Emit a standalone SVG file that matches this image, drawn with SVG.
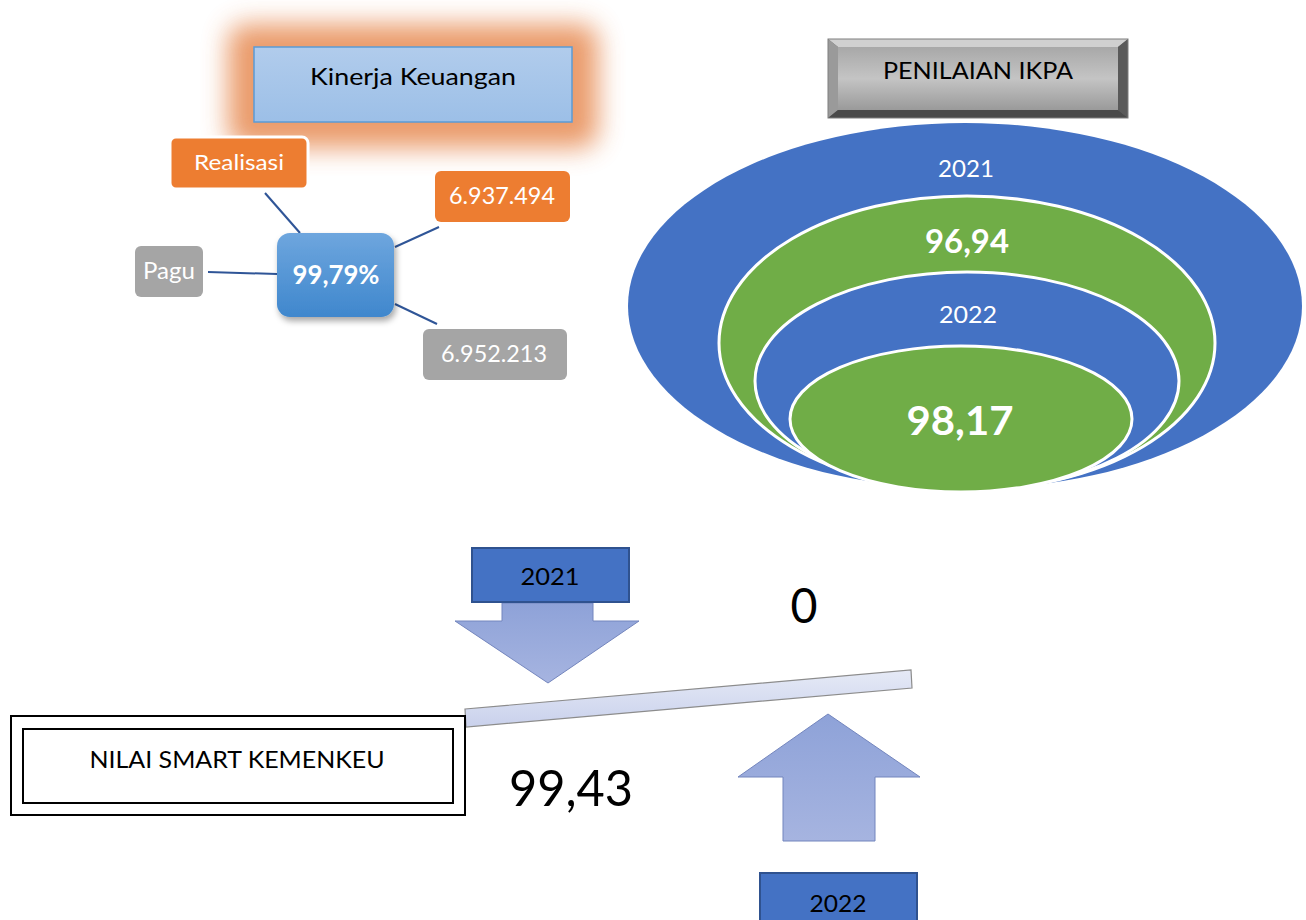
<svg xmlns="http://www.w3.org/2000/svg" width="1306" height="920" viewBox="0 0 1306 920">
<style>
text{font-family:Lato,"Liberation Sans",sans-serif;text-anchor:middle}
.w{fill:#fff}
.k{fill:#000}
.b{font-weight:bold}
.conn{stroke:#2F5597;stroke-width:2;fill:none}
.arrow{fill:url(#arrG);stroke:#7385BD;stroke-width:1}
.yr{fill:#4472C4;stroke:#2F528F;stroke-width:2}
</style>
<defs>
<linearGradient id="kinG" x1="0" y1="0" x2="0" y2="1"><stop offset="0" stop-color="#B1CCEC"/><stop offset="1" stop-color="#9CBFE7"/></linearGradient>
<linearGradient id="pctG" x1="0" y1="0" x2="0" y2="1"><stop offset="0" stop-color="#6EA6DE"/><stop offset="1" stop-color="#3F87CD"/></linearGradient>
<linearGradient id="grayG" x1="0" y1="0" x2="0" y2="1"><stop offset="0" stop-color="#A8A8A8"/><stop offset="0.5" stop-color="#C4C4C4"/><stop offset="1" stop-color="#9A9A9A"/></linearGradient>
<linearGradient id="arrG" x1="0" y1="0" x2="0" y2="1"><stop offset="0" stop-color="#8EA2D8"/><stop offset="1" stop-color="#A6B4E0"/></linearGradient>
<linearGradient id="barG" x1="0" y1="0" x2="0" y2="1"><stop offset="0" stop-color="#E6EAF6"/><stop offset="1" stop-color="#C9D1EC"/></linearGradient>
<filter id="glow" x="-30%" y="-60%" width="160%" height="220%"><feGaussianBlur stdDeviation="13"/></filter>
<filter id="shadow" x="-20%" y="-20%" width="150%" height="150%"><feDropShadow dx="2" dy="4" stdDeviation="3" flood-color="#000" flood-opacity="0.35"/></filter>
</defs>

<g id="kinerja-keuangan">
<rect x="228" y="24" width="370" height="124" rx="18" fill="#E8915C" opacity="0.9" filter="url(#glow)"/>
<rect x="254" y="47" width="318" height="75" fill="url(#kinG)" stroke="#5B9BD5" stroke-width="1.5"/>
<text x="413" y="85" font-size="24" class="k" textLength="206" lengthAdjust="spacingAndGlyphs">Kinerja Keuangan</text>
</g>

<g id="connectors">
<line class="conn" x1="265" y1="193" x2="300" y2="233"/>
<line class="conn" x1="208" y1="272" x2="277" y2="274"/>
<line class="conn" x1="395" y1="247" x2="439" y2="227"/>
<line class="conn" x1="395" y1="304" x2="437" y2="324"/>
</g>

<g id="realisasi">
<rect x="170" y="137" width="138" height="52" rx="6" fill="#ED7D31" stroke="#fff" stroke-width="3"/>
<text x="239" y="170" font-size="22" class="w" textLength="90" lengthAdjust="spacingAndGlyphs">Realisasi</text>
</g>

<g id="realisasi-value">
<rect x="435" y="171" width="135" height="51" rx="6" fill="#ED7D31"/>
<text x="502" y="204" font-size="23" class="w" textLength="106" lengthAdjust="spacingAndGlyphs">6.937.494</text>
</g>

<g id="pagu">
<rect x="135" y="246" width="68" height="51" rx="6" fill="#A5A5A5"/>
<text x="169" y="279" font-size="23" class="w" textLength="52" lengthAdjust="spacingAndGlyphs">Pagu</text>
</g>

<g id="pagu-value">
<rect x="423" y="329" width="144" height="51" rx="6" fill="#A5A5A5"/>
<text x="494" y="362" font-size="23" class="w" textLength="106" lengthAdjust="spacingAndGlyphs">6.952.213</text>
</g>

<g id="persentase">
<rect x="277" y="233" width="117" height="84" rx="13" fill="url(#pctG)" filter="url(#shadow)"/>
<text x="336" y="284" font-size="26" class="w b" textLength="87" lengthAdjust="spacingAndGlyphs">99,79%</text>
</g>

<g id="penilaian-ikpa">
<rect x="828" y="39" width="300" height="79" fill="#6E6E6E"/>
<polygon points="828,39 1128,39 1118,47 838,47" fill="#D0D0D0"/>
<polygon points="828,39 838,47 838,110 828,118" fill="#9A9A9A"/>
<polygon points="1128,39 1118,47 1118,110 1128,118" fill="#5A5A5A"/>
<polygon points="828,118 838,110 1118,110 1128,118" fill="#4A4A4A"/>
<rect x="838" y="47" width="280" height="63" fill="url(#grayG)"/>
<rect x="828" y="39" width="300" height="79" fill="none" stroke="#7F7F7F" stroke-width="1"/>
<text x="978" y="79" font-size="23" class="k" textLength="190" lengthAdjust="spacingAndGlyphs">PENILAIAN IKPA</text>
</g>

<g id="ikpa-2021">
<ellipse cx="965" cy="306" rx="337" ry="183" fill="#4472C4"/>
<text x="966" y="177" font-size="23" class="w" textLength="56" lengthAdjust="spacingAndGlyphs">2021</text>
</g>

<g id="ikpa-2021-value">
<ellipse cx="967" cy="343" rx="248" ry="147" fill="#70AD47" stroke="#fff" stroke-width="3"/>
<text x="967" y="253" font-size="32" class="w b" textLength="84" lengthAdjust="spacingAndGlyphs">96,94</text>
</g>

<g id="ikpa-2022">
<ellipse cx="967" cy="381" rx="212" ry="109" fill="#4472C4" stroke="#fff" stroke-width="3"/>
<text x="968" y="323" font-size="23" class="w" textLength="58" lengthAdjust="spacingAndGlyphs">2022</text>
</g>

<g id="ikpa-2022-value">
<ellipse cx="961" cy="419" rx="171" ry="73" fill="#70AD47" stroke="#fff" stroke-width="3"/>
<text x="960" y="435" font-size="40" class="w b" textLength="107" lengthAdjust="spacingAndGlyphs">98,17</text>
</g>

<g id="arrow-2021">
<polygon class="arrow" points="502,603 593,603 593,621 639,621 548,683 455,621 502,621"/>
</g>

<g id="year-2021">
<rect x="472" y="548" width="157" height="54" class="yr"/>
<text x="550" y="585" font-size="23" class="k" textLength="59" lengthAdjust="spacingAndGlyphs">2021</text>
</g>

<g id="value-0">
<text x="804" y="623" font-size="48" class="k" textLength="27" lengthAdjust="spacingAndGlyphs">0</text>
</g>

<g id="seesaw">
<polygon points="465,709 911,670 912,688 466,727" fill="url(#barG)" stroke="#8C8C8C" stroke-width="1.2"/>
</g>

<g id="nilai-smart">
<rect x="11" y="716" width="454" height="99" fill="#fff" stroke="#000" stroke-width="2"/>
<rect x="23" y="729" width="430" height="74" fill="none" stroke="#000" stroke-width="2"/>
<text x="237" y="768" font-size="24" class="k" textLength="295" lengthAdjust="spacingAndGlyphs">NILAI SMART KEMENKEU</text>
</g>

<g id="value-9943">
<text x="571" y="806" font-size="50" class="k" textLength="124" lengthAdjust="spacingAndGlyphs">99,43</text>
</g>

<g id="arrow-2022">
<polygon class="arrow" points="828,714 920,777 875,777 875,841 783,841 783,777 738,777"/>
</g>

<g id="year-2022">
<rect x="760" y="873" width="157" height="60" class="yr"/>
<text x="838" y="912" font-size="23" class="k" textLength="57" lengthAdjust="spacingAndGlyphs">2022</text>
</g>
</svg>
